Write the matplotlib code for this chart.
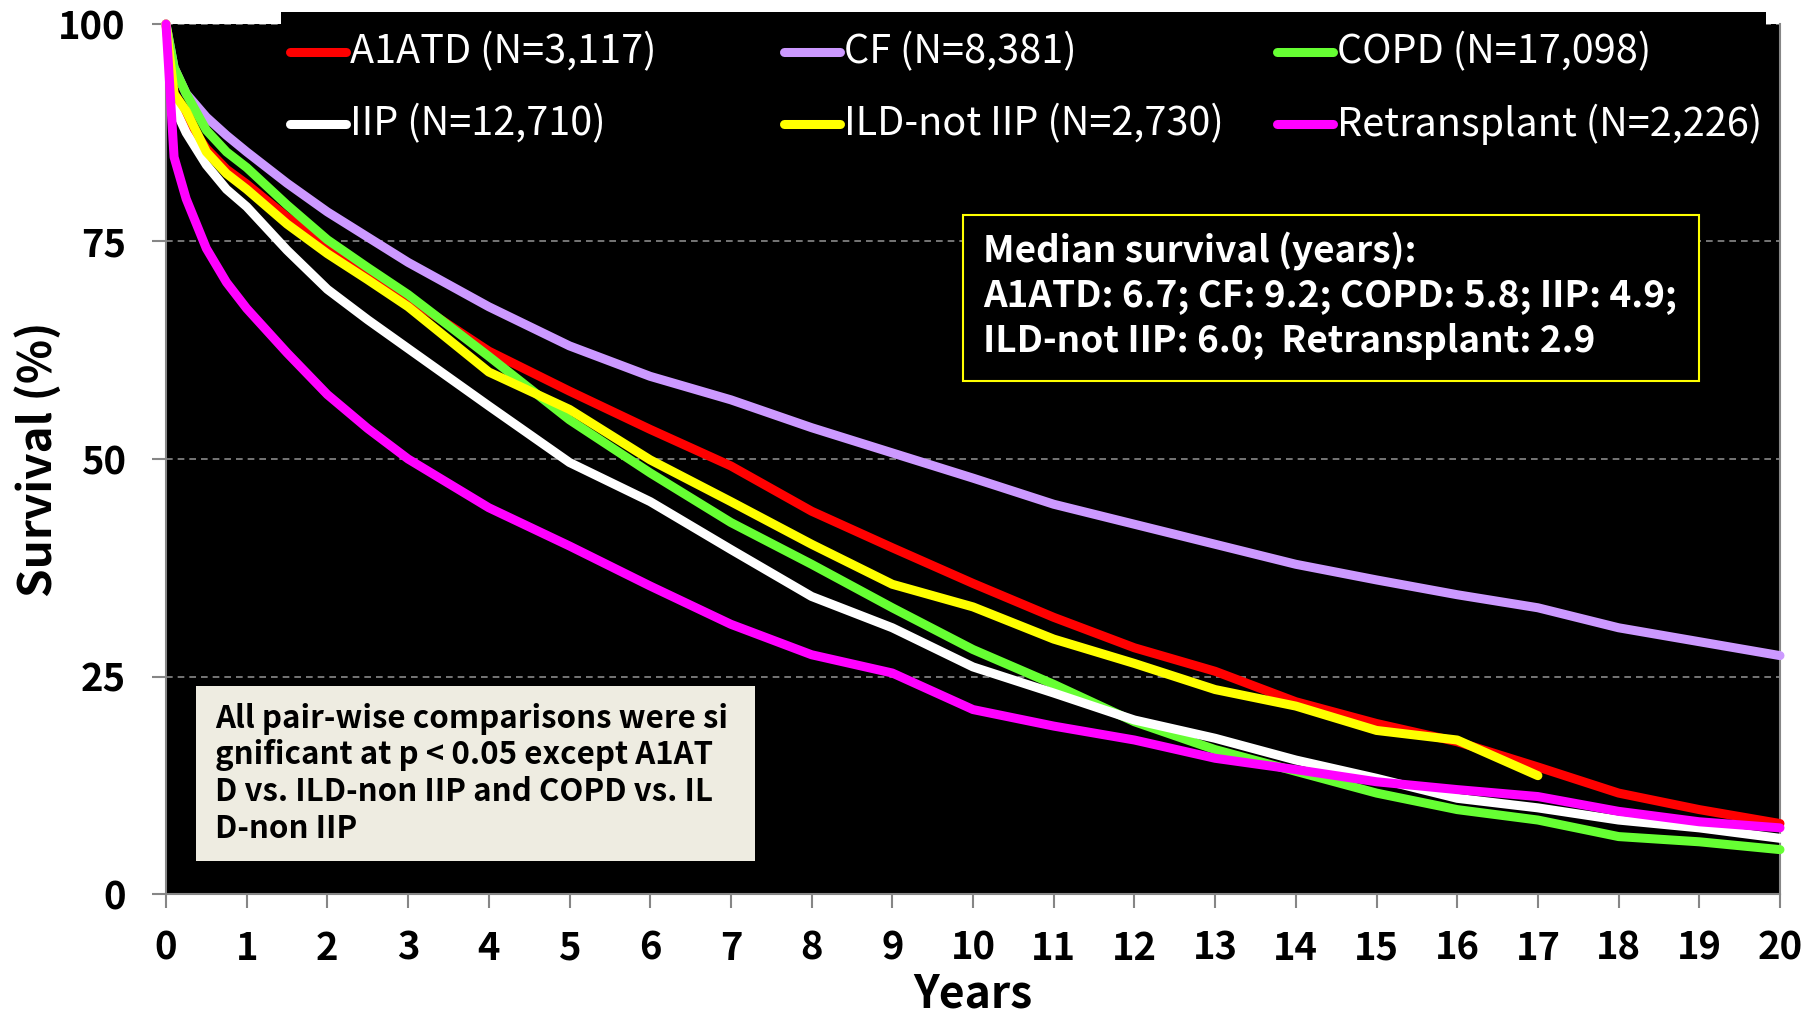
import matplotlib.pyplot as plt
from matplotlib.patches import Rectangle
from matplotlib.lines import Line2D

plt.rcParams['font.family'] = ['Noto Sans CJK KR', 'DejaVu Sans']

# Kaplan-Meier survival (%) by diagnosis, years after lung transplant
years = [0, 0.1, 0.25, 0.5, 0.75, 1, 1.5, 2, 2.5, 3, 4, 5, 6, 7, 8, 9, 10,
         11, 12, 13, 14, 15, 16, 17, 18, 19, 20]

a1atd = [100, 92.0, 89.0, 85.7, 83.3, 81.6, 77.8, 74.4, 71.5, 68.5, 62.4, 57.8,
         53.4, 49.2, 44.0, 39.8, 35.7, 31.8, 28.3, 25.6, 22.1, 19.6, 17.5, 14.6,
         11.6, 9.7, 8.1]
cf = [100, 95.0, 92.0, 89.3, 87.2, 85.3, 81.7, 78.4, 75.5, 72.6, 67.5, 63.0,
      59.5, 56.8, 53.6, 50.7, 47.8, 44.8, 42.5, 40.2, 37.9, 36.1, 34.4, 32.9,
      30.6, 29.0, 27.4]
copd = [100, 95.0, 92.0, 87.8, 85.3, 83.5, 79.2, 75.2, 72.0, 68.9, 61.8, 54.5,
        48.4, 42.7, 37.9, 32.9, 28.1, 24.1, 19.8, 16.6, 14.1, 11.6, 9.7, 8.5,
        6.6, 6.0, 5.1]
iip = [100, 90.5, 87.5, 83.8, 81.0, 79.0, 74.0, 69.5, 66.0, 62.7, 56.1, 49.6,
       45.1, 39.6, 34.2, 30.6, 26.1, 23.1, 20.0, 17.9, 15.4, 13.3, 11.0, 9.9,
       8.5, 7.6, 6.4]
ild = [100, 92.0, 90.0, 85.3, 82.8, 81.0, 77.0, 73.6, 70.6, 67.5, 60.0, 55.7,
       49.9, 45.1, 40.2, 35.6, 33.0, 29.3, 26.5, 23.5, 21.6, 18.8, 17.7, 13.6]
retx = [100, 84.7, 79.9, 74.2, 70.3, 67.3, 62.2, 57.4, 53.5, 50.0, 44.4, 40.0,
        35.4, 31.0, 27.5, 25.4, 21.2, 19.3, 17.7, 15.6, 14.3, 12.9, 12.0, 11.2,
        9.5, 8.3, 7.6]

labels = ['A1ATD (N=3,117)', 'CF (N=8,381)', 'COPD (N=17,098)',
          'IIP (N=12,710)', 'ILD-not IIP (N=2,730)', 'Retransplant (N=2,226)']
colors = ['#FF0000', '#CC99FF', '#66FF33', '#FFFFFF', '#FFFF00', '#FF00FF']
series = [a1atd, cf, copd, iip, ild, retx]

median_lines = ['Median survival (years):',
                'A1ATD: 6.7; CF: 9.2; COPD: 5.8; IIP: 4.9;',
                'ILD-not IIP: 6.0;  Retransplant: 2.9']
note_lines = ['All pair-wise comparisons were si',
              'gnificant at p < 0.05 except A1AT',
              'D vs. ILD-non IIP and COPD vs. IL',
              'D-non IIP']

W, H = 1816, 1016


def fx(px):
    return px / W


def fy(py):
    return 1 - py / H


fig = plt.figure(figsize=(W / 100, H / 100), dpi=100)
ax = fig.add_axes([fx(166), fy(894), fx(1780) - fx(166), fy(24) - fy(894)])
ax.set_facecolor('black')

# drawing order: CF underneath, retransplant on top
for i in [1, 0, 2, 3, 4, 5]:
    vals = series[i]
    ax.plot(years[:len(vals)], vals, color=colors[i], lw=6.5,
            solid_capstyle='round', solid_joinstyle='round',
            clip_on=False, zorder=3)

ax.set_xlim(0, 20)
ax.set_ylim(0, 100)
ax.set_xticks(range(0, 21))
ax.set_yticks([0, 25, 50, 75, 100])
ax.yaxis.grid(True, color='#8a8a8a', ls=(0, (4, 3)), lw=1.2)

gray = '#868686'
ax.spines['top'].set_visible(False)
for s in ['left', 'bottom', 'right']:
    ax.spines[s].set_color(gray)
    ax.spines[s].set_linewidth(1.5)
ax.tick_params(direction='out', length=10, width=1.5, color=gray,
               labelsize=27.5, pad=19)
ax.tick_params(axis='x', pad=15)
for lbl in ax.get_xticklabels() + ax.get_yticklabels():
    lbl.set_fontweight('bold')

ax.set_xlabel('Years', fontsize=32, fontweight='bold')
ax.set_ylabel('Survival (%)', fontsize=33, fontweight='bold')
ax.xaxis.set_label_coords(0.5, -(995 - 894) / 870)
ax.xaxis.label.set_va('center')
ax.yaxis.set_label_coords(-(166 - 38) / 1614, 0.5)
ax.yaxis.label.set_va('center')

# legend panel above the plot area
fig.add_artist(Rectangle((fx(281), fy(150)), fx(1766) - fx(281), fy(12) - fy(150),
                         transform=fig.transFigure, facecolor='black',
                         edgecolor='none', zorder=2))
col_x = [290, 784, 1277]
row_y = [52, 124]
for i, (lab, col) in enumerate(zip(labels, colors)):
    r, c = divmod(i, 3)
    x0, y0 = col_x[c], row_y[r]
    fig.add_artist(Line2D([fx(x0), fx(x0 + 56)], [fy(y0), fy(y0)],
                          transform=fig.transFigure, color=col, lw=6.5,
                          solid_capstyle='round', zorder=3))
    fig.text(fx(x0 + 60), fy(y0), lab, color='white', fontsize=28.5,
             ha='left', va='center', zorder=4)

# median survival box
fig.add_artist(Rectangle((fx(963), fy(381)), fx(1699) - fx(963), fy(215) - fy(381),
                         transform=fig.transFigure, facecolor='black',
                         edgecolor='#FFFF00', lw=1.5, zorder=2))
for line, y in zip(median_lines, [251, 296, 341]):
    fig.text(fx(983), fy(y), line, color='white', fontsize=26.6,
             fontweight='bold', ha='left', va='center', zorder=4)

# significance note
fig.add_artist(Rectangle((fx(196), fy(861)), fx(755) - fx(196), fy(686) - fy(861),
                         transform=fig.transFigure, facecolor='#EEECE1',
                         edgecolor='none', zorder=2))
for line, y in zip(note_lines, [719, 755, 792, 829]):
    fig.text(fx(215), fy(y), line, color='black', fontsize=22.5,
             fontweight='bold', ha='left', va='center', zorder=4)

fig.savefig('out.png', dpi=100, facecolor='white')
